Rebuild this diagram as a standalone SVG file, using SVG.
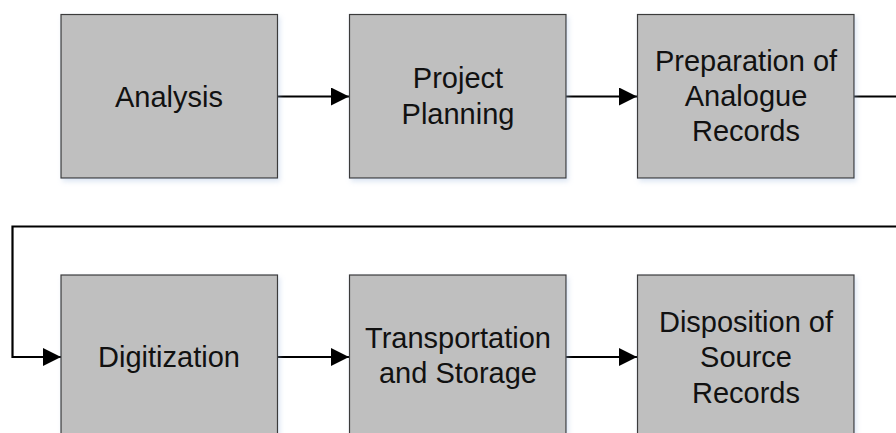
<svg xmlns="http://www.w3.org/2000/svg" width="896" height="433" viewBox="0 0 896 433">
  <style>
    .box { fill: #bfbfbf; stroke: #3a3a3a; stroke-width: 1.2; }
    .lbl { font-family: "Liberation Sans", Arial, sans-serif; font-size: 29px; fill: #111; text-anchor: middle; }
    .wire { fill: none; stroke: #000; stroke-width: 2.2; }
  </style>
  <defs>
    <marker id="head" markerWidth="18" markerHeight="18" viewBox="0 0 18 18" refX="18" refY="9" orient="auto" markerUnits="userSpaceOnUse">
      <path d="M0,0 L18,9 L0,18 Z" fill="#000"/>
    </marker>
    <filter id="glow" x="-10%" y="-10%" width="125%" height="125%">
      <feGaussianBlur in="SourceAlpha" stdDeviation="2.5"/>
      <feOffset dx="2" dy="3" result="b"/>
      <feFlood flood-color="#9db8dc" flood-opacity="0.35"/>
      <feComposite in2="b" operator="in"/>
      <feMerge><feMergeNode/><feMergeNode in="SourceGraphic"/></feMerge>
    </filter>
  </defs>

  <!-- connectors -->
  <g id="connectors">
    <path class="wire" d="M277,96.5 H349" marker-end="url(#head)"/>
    <path class="wire" d="M566,96.5 H637" marker-end="url(#head)"/>
    <path class="wire" d="M854,96.5 H896"/>
    <path class="wire" d="M896,226.5 H12.5 V357 H61" marker-end="url(#head)"/>
    <path class="wire" d="M277,357 H349" marker-end="url(#head)"/>
    <path class="wire" d="M566,357 H637" marker-end="url(#head)"/>
  </g>

  <g id="analysis">
    <rect class="box" x="61" y="14.5" width="216.5" height="163.5" filter="url(#glow)"/>
    <text class="lbl" x="169" y="106.5">Analysis</text>
  </g>
  <g id="project-planning">
    <rect class="box" x="349.5" y="14.5" width="216.5" height="163.5" filter="url(#glow)"/>
    <text class="lbl" x="458" y="87.5">Project</text>
    <text class="lbl" x="458" y="123.5">Planning</text>
  </g>
  <g id="preparation">
    <rect class="box" x="637.5" y="14.5" width="216.5" height="163.5" filter="url(#glow)"/>
    <text class="lbl" x="746" y="70.5">Preparation of</text>
    <text class="lbl" x="746" y="106">Analogue</text>
    <text class="lbl" x="746" y="141">Records</text>
  </g>

  <g id="digitization">
    <rect class="box" x="61" y="275" width="216.5" height="163.5" filter="url(#glow)"/>
    <text class="lbl" x="169" y="367">Digitization</text>
  </g>
  <g id="transportation">
    <rect class="box" x="349.5" y="275" width="216.5" height="163.5" filter="url(#glow)"/>
    <text class="lbl" x="458" y="347.5">Transportation</text>
    <text class="lbl" x="458" y="383">and Storage</text>
  </g>
  <g id="disposition">
    <rect class="box" x="637.5" y="275" width="216.5" height="163.5" filter="url(#glow)"/>
    <text class="lbl" x="746" y="331.5">Disposition of</text>
    <text class="lbl" x="746" y="367">Source</text>
    <text class="lbl" x="746" y="402.5">Records</text>
  </g>
</svg>
